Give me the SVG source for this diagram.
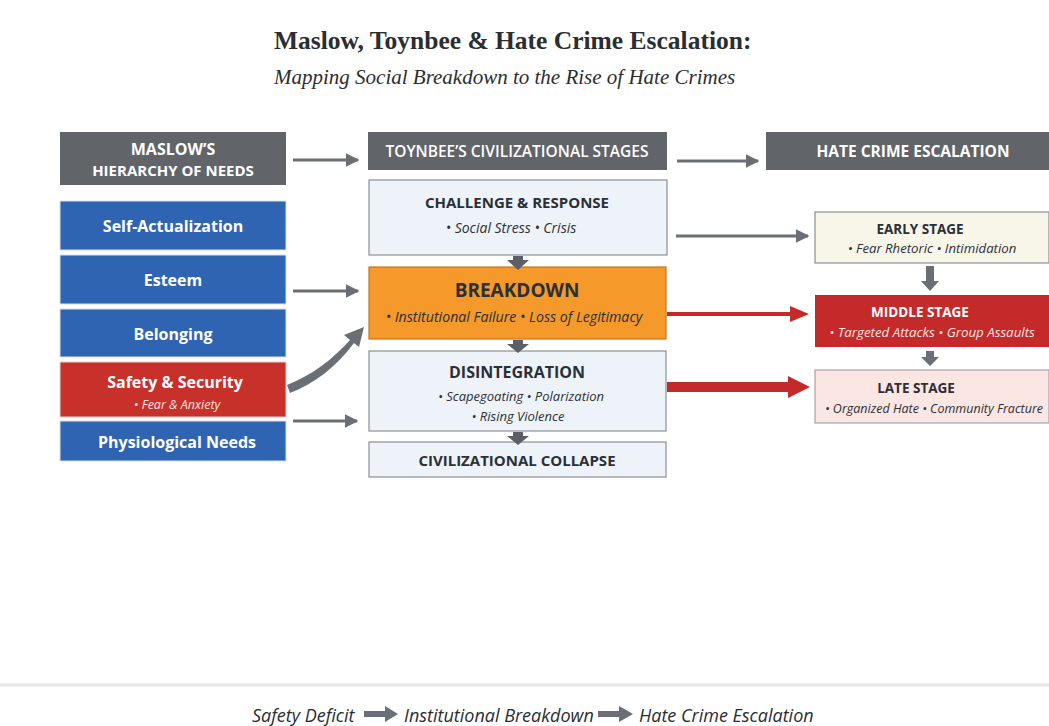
<svg xmlns="http://www.w3.org/2000/svg" width="1049" height="726" viewBox="0 0 1049 726">
<style>
.t{font-family:"Open Sans","Liberation Sans",sans-serif}
.hdr{fill:#616469}
.ht{font-family:"Open Sans","Liberation Sans",sans-serif;font-weight:700;font-size:15px;fill:#fff;text-anchor:middle}
.blue{fill:#2f64b3;stroke:#d8e0ee;stroke-width:1}
.lt{font-family:"Open Sans","Liberation Sans",sans-serif;font-weight:700;font-size:16px;fill:#fff;text-anchor:middle}
.pale{fill:#eef3f9;stroke:#8a8f96;stroke-width:1.2}
.bt{font-family:"Open Sans","Liberation Sans",sans-serif;font-weight:700;font-size:15px;fill:#2b2f36;text-anchor:middle}
.it{font-family:"Open Sans","Liberation Sans",sans-serif;font-style:italic;font-size:12.5px;fill:#2b2f36;text-anchor:middle}
.ga{stroke:#6a6e75;stroke-width:3;fill:none}
</style>
<defs>
<marker id="ag" viewBox="0 0 10 10" refX="9" refY="5" markerWidth="4.5" markerHeight="4.5" orient="auto" markerUnits="strokeWidth"><path d="M0,0 L10,5 L0,10 z" fill="#6a6e75"/></marker>
</defs>
<rect width="1049" height="726" fill="#ffffff"/>
<g id="title">
<text x="274" y="49" font-family="Liberation Serif,serif" font-weight="700" font-size="25.5" fill="#2b2d31">Maslow, Toynbee &amp; Hate Crime Escalation:</text>
<text x="274" y="84" font-family="Liberation Serif,serif" font-style="italic" font-size="21" fill="#2b2d31">Mapping Social Breakdown to the Rise of Hate Crimes</text>
</g>
<g id="maslow-header"><rect class="hdr" x="60" y="132" width="226" height="53"/><text class="ht" x="173" y="155" style="font-size:16px">MASLOW’S</text><text class="ht" x="173" y="176">HIERARCHY OF NEEDS</text></g>
<g id="self-actualization"><rect class="blue" x="60" y="201" width="226" height="49"/><text class="lt" x="173" y="232">Self-Actualization</text></g>
<g id="esteem"><rect class="blue" x="60" y="255" width="226" height="49"/><text class="lt" x="173" y="286">Esteem</text></g>
<g id="belonging"><rect class="blue" x="60" y="309" width="226" height="48"/><text class="lt" x="173" y="340">Belonging</text></g>
<g id="safety"><rect x="60" y="362" width="226" height="55" fill="#c8302a" stroke="#e8d0d0"/><text class="lt" x="175" y="388">Safety &amp; Security</text><text class="it" x="177" y="409" style="fill:#fbe3e0;font-size:12.5px">• Fear &amp; Anxiety</text></g>
<g id="physiological"><rect class="blue" x="60" y="421" width="226" height="40"/><text class="lt" x="177" y="448">Physiological Needs</text></g>

<g id="toynbee-header"><rect class="hdr" x="368" y="132" width="299" height="38"/><text class="ht" x="517" y="157" style="font-weight:600;font-size:15.5px">TOYNBEE’S CIVILIZATIONAL STAGES</text></g>
<g id="challenge"><rect class="pale" x="369" y="180" width="298" height="75"/><text class="bt" x="517" y="208">CHALLENGE &amp; RESPONSE</text><text class="it" x="511" y="233" style="font-size:14px">• Social Stress • Crisis</text></g>
<g id="breakdown"><rect x="369" y="267" width="297" height="72" fill="#f5992b" stroke="#c7751a" stroke-width="1.2"/><text class="bt" x="517" y="297" style="font-size:19px">BREAKDOWN</text><text class="it" x="514" y="322" style="font-size:14.2px">• Institutional Failure • Loss of Legitimacy</text></g>
<g id="disintegration"><rect class="pale" x="369" y="351" width="297" height="80"/><text class="bt" x="517" y="378" style="font-size:16px">DISINTEGRATION</text><text class="it" x="521" y="401" style="font-size:13px">• Scapegoating • Polarization</text><text class="it" x="518" y="421" style="font-size:13px">• Rising Violence</text></g>
<g id="collapse"><rect class="pale" x="369" y="442" width="297" height="35"/><text class="bt" x="517" y="466">CIVILIZATIONAL COLLAPSE</text></g>

<g id="hate-header"><rect class="hdr" x="766" y="132" width="283" height="38"/><text class="ht" x="913" y="157" style="font-size:15.5px">HATE CRIME ESCALATION</text></g>
<g id="early"><rect x="815" y="212" width="234" height="51" fill="#f8f5e9" stroke="#8a8f96" stroke-width="1.2"/><text class="bt" x="920" y="234" style="font-size:13.5px">EARLY STAGE</text><text class="it" x="932" y="253" style="font-size:13.2px">• Fear Rhetoric • Intimidation</text></g>
<g id="middle"><rect x="815" y="295" width="234" height="52" fill="#c42a2a"/><text class="bt" x="920" y="317" style="font-size:13.5px;fill:#fff">MIDDLE STAGE</text><text class="it" x="932" y="337" style="font-size:13.3px;fill:#fbe3e0">• Targeted Attacks  • Group Assaults</text></g>
<g id="late"><rect x="815" y="370" width="234" height="53" fill="#fbe6e3" stroke="#a3a3a8" stroke-width="1.2"/><text class="bt" x="916" y="393" style="font-size:13.5px">LATE STAGE</text><text class="it" x="934" y="413" style="font-size:12.5px">• Organized Hate • Community Fracture</text></g>

<g id="connectors">
<line class="ga" x1="293" y1="160" x2="358" y2="160" marker-end="url(#ag)"/>
<line class="ga" x1="677" y1="161" x2="758" y2="161" marker-end="url(#ag)"/>
<line class="ga" x1="293" y1="291" x2="358" y2="291" marker-end="url(#ag)"/>
<line class="ga" x1="293" y1="421" x2="357" y2="421" marker-end="url(#ag)"/>
<line class="ga" x1="676" y1="236" x2="808" y2="236" marker-end="url(#ag)"/>
<path d="M287,385 C312,375 332,360 350,340 L344,335 L364,327 L359,347 L354,343 C336,367 314,384 290,393 Z" fill="#6a6e75"/>
<path d="M513,256 L523,256 L523,260 L529,260 L518,270 L507,260 L513,260 Z" fill="#5b5f66"/>
<path d="M513,340 L523,340 L523,344 L529,344 L518,353 L507,344 L513,344 Z" fill="#5b5f66"/>
<path d="M513,432 L523,432 L523,436 L529,436 L518,445 L507,436 L513,436 Z" fill="#5b5f66"/>
<path d="M926,266 L934,266 L934,281 L939,281 L930,291 L921,281 L926,281 Z" fill="#6a6e75"/>
<path d="M926,351 L934,351 L934,357 L939,357 L930,366 L921,357 L926,357 Z" fill="#6a6e75"/>
<path d="M667,312 L790,312 L790,306 L809,314 L790,322 L790,316 L667,316 Z" fill="#c42a2a"/>
<path d="M667,382 L788,382 L788,376 L810,387 L788,398 L788,392 L667,392 Z" fill="#c42a2a"/>
</g>

<g id="footer">
<line x1="0" y1="685" x2="1049" y2="685" stroke="#e6e7e9" stroke-width="3"/>
<text x="252" y="722" font-family="Open Sans,Liberation Sans,sans-serif" font-style="italic" font-size="18" fill="#2b2d31">Safety Deficit</text>
<path d="M364,711 L385,711 L385,706 L398,714 L385,722 L385,717 L364,717 Z" fill="#6a6e75"/>
<text x="404" y="722" font-family="Open Sans,Liberation Sans,sans-serif" font-style="italic" font-size="18" fill="#2b2d31">Institutional Breakdown</text>
<path d="M598,711 L619,711 L619,706 L633,714 L619,722 L619,717 L598,717 Z" fill="#6a6e75"/>
<text x="639" y="722" font-family="Open Sans,Liberation Sans,sans-serif" font-style="italic" font-size="18" fill="#2b2d31">Hate Crime Escalation</text>
</g>
</svg>
